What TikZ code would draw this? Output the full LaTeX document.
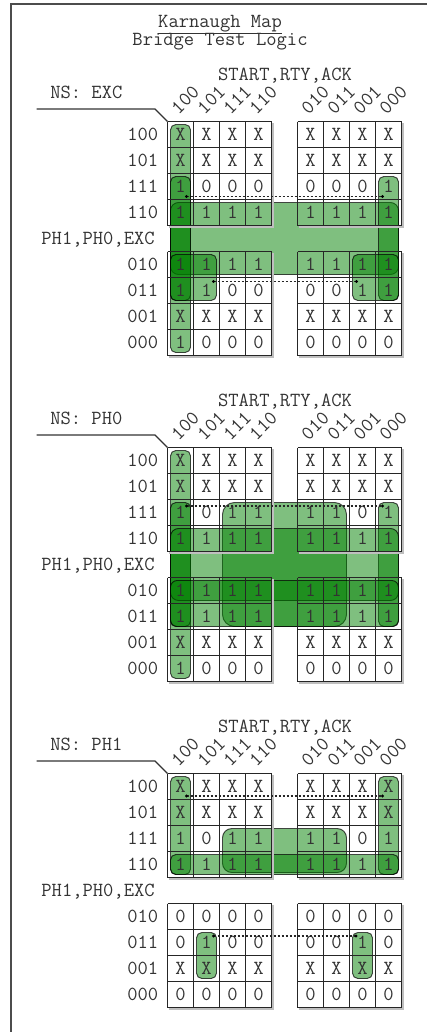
\documentclass[tikz,border=0pt]{standalone}
\usepackage{fontspec}
\usetikzlibrary{calc}
\newcommand{\kmfont}{\fontsize{15}{18}\selectfont\ttfamily}
\tikzset{
  frameline/.style={draw=black!70, line width=1.5pt},
  cellline/.style={draw=black!85, line width=1pt},
  shadowline/.style={draw=black!25, line width=1pt},
  grp/.style={fill=green!50!black, fill opacity=0.5, draw=black, draw opacity=0.7,
              line width=0.7pt, rounded corners=4pt},
  val/.style={inner sep=0pt, font=\kmfont, text=black!80},
  lab/.style={inner sep=0pt, font=\kmfont, text=black!80},
  nsline/.style={draw=black!80, line width=1pt},
  wrapline/.style={draw=black!85, line width=0.8pt, dash pattern=on 1.5pt off 1.5pt},
  dotc/.style={fill=black}
}
% grid blocks of one map (in a scope shifted to its top-left corner)
\newcommand{\kmblocks}{%
  \foreach \bx in {0,130} {
    \foreach \by in {0,130} {
      \draw[shadowline] (\bx+105.5,\by+1.5) -- (\bx+105.5,\by+105.5) -- (\bx+1.5,\by+105.5);
      \foreach \i in {0,...,4} {
        \draw[cellline] (\bx+26*\i,\by) -- (\bx+26*\i,\by+104);
        \draw[cellline] (\bx,\by+26*\i) -- (\bx+104,\by+26*\i);
      }
    }
  }%
}
% labels of one map: #1 prefix, #2 output name
\newcommand{\kmlabels}[2]{%
  \node[lab, anchor=base] (#1-in) at (117.5,-41) {START,RTY,ACK};
  \node[lab, anchor=base west] (#1-ns) at (-117.5,-23) {NS: #2};
  \coordinate (#1-n1) at (-130.8,-12.5);
  \coordinate (#1-n2) at (-12.5,-12.5);
  \coordinate (#1-n3) at (0,0);
  \draw[nsline] (#1-n1) -- (#1-n2) -- (#1-n3);
  \node[lab, anchor=base east] (#1-st) at (-12.5,123.3) {PH1,PH0,EXC};
  \foreach \r/\lbl in {0/100,1/101,2/111,3/110,5/010,6/011,7/001,8/000} {
    \node[lab, anchor=east] (#1-rl-\r) at (-9,26*\r+13) {\lbl};
  }
  \foreach \lbl [count=\i] in {100,101,111,110,010,011,001,000} {
    \pgfmathtruncatemacro\k{\i<=4 ? \i-1 : \i}
    \node[lab, rotate=45, anchor=west] (#1-cl-\i) at (26*\k+6.5,-10.5) {\lbl};
  }%
}
% cell values: #1 prefix, #2 list of row/{values}
\newcommand{\kmvalues}[2]{%
  \foreach \r/\vals in {#2} {
    \foreach \v [count=\i] in \vals {
      \pgfmathtruncatemacro\k{\i<=4 ? \i-1 : \i}
      \node[val] (#1-\r-\i) at (26*\k+13,26*\r+13) {\v};
    }
  }%
}
\newcommand{\kmwrap}[2]{%
  \draw[wrapline] (#1) -- (#2);
  \fill[dotc] (#1) circle[radius=1.2pt];
  \fill[dotc] (#2) circle[radius=1.2pt];
}
\begin{document}
\begin{tikzpicture}[x=0.75pt, y=-0.75pt]
\useasboundingbox (0,0) rectangle (427,1032);
\clip (0,0) rectangle (427,1032);
\draw[frameline] (11,4) rectangle (440,1045);
\node[lab, anchor=base] (title) at (220,27) {\underline{Karnaugh Map}};
\node[lab, anchor=base] (subtitle) at (220,45) {Bridge Test Logic};

% ---------------- map 1 : NS: EXC
\begin{scope}[shift={(167.5,121.5)}]
  \kmlabels{ma}{EXC}
  \draw[grp] (3,3) rectangle (23,231);
  \draw[grp, rounded corners=6pt] (3,81) rectangle (231,153);
  \draw[grp] (3,55) rectangle (23,179);
  \draw[grp] (211,55) rectangle (231,179);
  \draw[grp] (3,133) rectangle (49,179);
  \draw[grp] (185,133) rectangle (231,179);
  \kmblocks
  \kmvalues{ma}{0/{X,X,X,X,X,X,X,X},1/{X,X,X,X,X,X,X,X},2/{1,0,0,0,0,0,0,1},3/{1,1,1,1,1,1,1,1},5/{1,1,1,1,1,1,1,1},6/{1,1,0,0,0,0,1,1},7/{X,X,X,X,X,X,X,X},8/{1,0,0,0,0,0,0,0}}
  \coordinate (ma-w1a) at (19,75);
  \coordinate (ma-w1b) at (215,75);
  \coordinate (ma-w2a) at (46,160);
  \coordinate (ma-w2b) at (189,160);
  \kmwrap{ma-w1a}{ma-w1b}
  \kmwrap{ma-w2a}{ma-w2b}
\end{scope}

% ---------------- map 2 : NS: PH0
\begin{scope}[shift={(167.5,447.5)}]
  \kmlabels{mb}{PH0}
  \draw[grp] (3,3) rectangle (23,231);
  \draw[grp] (3,55) rectangle (23,179);
  \draw[grp] (211,55) rectangle (231,179);
  \draw[grp, rounded corners=9pt] (55,55) rectangle (179,179);
  \draw[grp, rounded corners=6pt] (3,81) rectangle (231,153);
  \draw[grp, rounded corners=5pt] (3,133) rectangle (231,179);
  \kmblocks
  \kmvalues{mb}{0/{X,X,X,X,X,X,X,X},1/{X,X,X,X,X,X,X,X},2/{1,0,1,1,1,1,0,1},3/{1,1,1,1,1,1,1,1},5/{1,1,1,1,1,1,1,1},6/{1,1,1,1,1,1,1,1},7/{X,X,X,X,X,X,X,X},8/{1,0,0,0,0,0,0,0}}
  \coordinate (mb-w1a) at (19,58.5);
  \coordinate (mb-w1b) at (215,58.5);
  \kmwrap{mb-w1a}{mb-w1b}
\end{scope}

% ---------------- map 3 : NS: PH1
\begin{scope}[shift={(167.5,773.5)}]
  \kmlabels{mc}{PH1}
  \draw[grp] (3,3) rectangle (23,101);
  \draw[grp] (211,3) rectangle (231,101);
  \draw[grp, rounded corners=7pt] (55,55) rectangle (179,99);
  \draw[grp] (3,81) rectangle (231,101);
  \draw[grp] (29,159) rectangle (49,205);
  \draw[grp] (185,159) rectangle (205,205);
  \kmblocks
  \kmvalues{mc}{0/{X,X,X,X,X,X,X,X},1/{X,X,X,X,X,X,X,X},2/{1,0,1,1,1,1,0,1},3/{1,1,1,1,1,1,1,1},5/{0,0,0,0,0,0,0,0},6/{0,1,0,0,0,0,1,0},7/{X,X,X,X,X,X,X,X},8/{0,0,0,0,0,0,0,0}}
  \coordinate (mc-w1a) at (19,22.5);
  \coordinate (mc-w1b) at (215,22.5);
  \coordinate (mc-w2a) at (46,162.5);
  \coordinate (mc-w2b) at (188.5,162.5);
  \kmwrap{mc-w1a}{mc-w1b}
  \kmwrap{mc-w2a}{mc-w2b}
\end{scope}
\end{tikzpicture}
\end{document}
